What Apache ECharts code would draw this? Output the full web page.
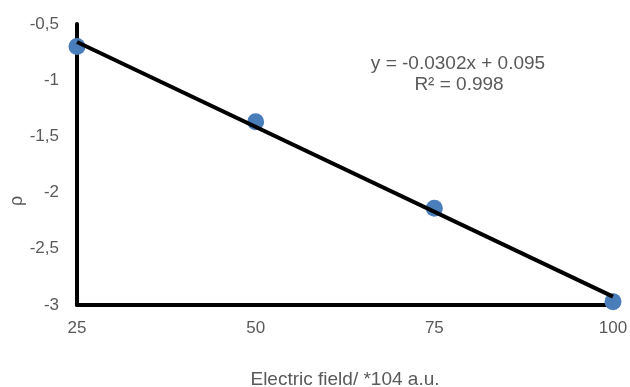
<!DOCTYPE html>
<html><head><meta charset="utf-8">
<script src="https://cdn.jsdelivr.net/npm/echarts@6/dist/echarts.min.js"></script>
<style>html,body{margin:0;padding:0;background:#fff}#c{width:630px;height:387px}</style>
</head><body><div id="c"></div>
<script>
const xValues = [25, 50, 75, 100];
const rhoValues = [-0.70, -1.37, -2.14, -2.97];
const trendX = [25, 100];
const trendY = [-0.66, -2.925];
const equationText = 'y = -0.0302x + 0.095';
const r2Text = 'R² = 0.998';
const xTitle = 'Electric field/ *104 a.u.';
const yTitle = 'ρ';

const chart = echarts.init(document.getElementById('c'), null, {renderer: 'canvas'});
const font = 'Liberation Sans, Arial, sans-serif';
const grey = '#595959';
chart.setOption({
  animation: false,
  grid: {left: 77, right: 17, top: 24, bottom: 82, containLabel: false, outerBoundsMode: 'none'},
  xAxis: {
    type: 'value', min: 25, max: 100, interval: 25,
    axisLine: {show: true, onZero: false, lineStyle: {color: '#000', width: 4}},
    axisTick: {show: false}, splitLine: {show: false},
    axisLabel: {color: grey, fontSize: 17, fontFamily: font, margin: 15},
    name: xTitle, nameLocation: 'middle', nameGap: 65,
    nameTextStyle: {color: grey, fontSize: 19, fontFamily: font, verticalAlign: 'top'}
  },
  yAxis: {
    type: 'value', min: -3, max: -0.5, interval: 0.5,
    axisLine: {show: true, onZero: false, lineStyle: {color: '#000', width: 4}},
    axisTick: {show: false}, splitLine: {show: false},
    axisLabel: {color: grey, fontSize: 17, fontFamily: font, margin: 18,
      formatter: v => String(v).replace('.', ',')}
  },
  graphic: [
    {type: 'text', x: 17, y: 201, rotation: Math.PI/2,
      style: {text: yTitle, fill: grey, font: '18px ' + font, textAlign: 'center', textVerticalAlign: 'middle'}},
    {type: 'text', x: 458, y: 64, style: {text: equationText, fill: grey, font: '19px ' + font, textAlign: 'center', textVerticalAlign: 'middle'}},
    {type: 'text', x: 459, y: 85, style: {text: r2Text, fill: grey, font: '19px ' + font, textAlign: 'center', textVerticalAlign: 'middle'}}
  ],
  series: [
    {type: 'scatter', data: xValues.map((x, i) => [x, rhoValues[i]]),
      symbolSize: 17, itemStyle: {color: '#4A7EBB', opacity: 1}, z: 2},
    {type: 'line', data: trendX.map((x, i) => [x, trendY[i]]),
      symbol: 'none', lineStyle: {color: '#000', width: 4}, z: 3}
  ]
});
</script></body></html>
